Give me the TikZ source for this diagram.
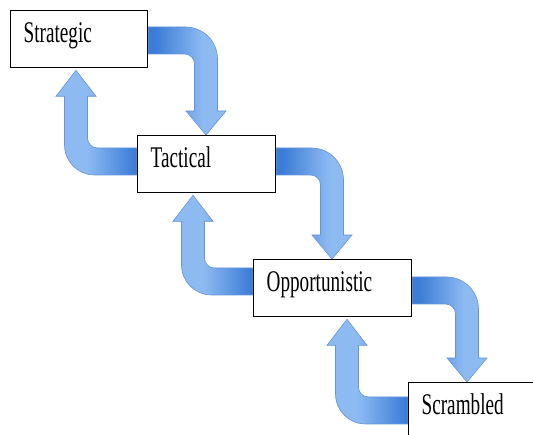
\documentclass[tikz,border=0pt]{standalone}
\usepackage{fontspec}
\usetikzlibrary{calc}
\newfontfamily\boxfont[FakeStretch=0.64]{Liberation Serif}
\definecolor{arrdark}{RGB}{58,124,214}
\definecolor{arrlight}{RGB}{142,186,242}
\definecolor{arredge}{RGB}{100,148,220}
\pgfdeclarehorizontalshading{rdshade}{100bp}{color(0bp)=(arrdark); color(29bp)=(arrdark); color(60bp)=(arrlight); color(100bp)=(arrlight)}
\pgfdeclarehorizontalshading{lushade}{100bp}{color(0bp)=(arrlight); color(44bp)=(arrlight); color(74bp)=(arrdark); color(100bp)=(arrdark)}
\pgfdeclarelayer{bg}
\pgfsetlayers{bg,main}
\tikzset{
  stagebox/.style={draw=black, line width=1.3pt, fill=white, anchor=north west,
    minimum height=57pt, inner xsep=13pt, inner ysep=0pt, text height=20pt, text depth=13pt,
    align=left, font={\boxfont\fontsize{30pt}{36pt}\selectfont}},
  blockarrow/.style={draw=arredge, line width=0.6pt},
}
% right-then-down block arrow: from node, to node, band top offset, shaft centre offset
\newcommand\rdarrow[4]{%
  \shade[blockarrow, shading=rdshade] let \p1=(#1.north east), \p2=(#2.north west),
    \n0={\x1}, \n1={\x2+#4}, \n2={\y1-#3}, \n3={\y1-#3-27}, \n4={\y2+24}, \n5={\y2} in
    (\n0,\n2) -- ({\n1+11.5-32},\n2) arc[start angle=90,end angle=0,radius=32]
    -- ({\n1+11.5},\n4) -- ({\n1+20},\n4) -- (\n1,\n5) -- ({\n1-20},\n4) -- ({\n1-11.5},\n4)
    -- ({\n1-11.5},{\n3-10}) arc[start angle=0,end angle=90,radius=10] -- (\n0,\n3) -- cycle;}
% left-then-up block arrow: from node (lower), to node (upper), band top offset, shaft centre offset
\newcommand\luarrow[4]{%
  \shade[blockarrow, shading=lushade] let \p1=(#1.north west), \p2=(#2.south west),
    \n0={\x1}, \n1={\x2+#4}, \n2={\y1-#3}, \n3={\y1-#3-27}, \n5={\y2-2}, \n4={\y2-2-26} in
    (\n0,\n3) -- ({\n1-11.5+30},\n3) arc[start angle=270,end angle=180,radius=30]
    -- ({\n1-11.5},\n4) -- ({\n1-20},\n4) -- (\n1,\n5) -- ({\n1+20},\n4) -- ({\n1+11.5},\n4)
    -- ({\n1+11.5},{\n2+10}) arc[start angle=180,end angle=270,radius=10] -- (\n0,\n2) -- cycle;}
\begin{document}
\begin{tikzpicture}[x=1pt, y=1pt]
  \useasboundingbox (0,0) rectangle (533,435);
  \clip (0,0) rectangle (533,435);
  \node[stagebox, text width=111pt] (strat) at (10,425) {Strategic};
  \node[stagebox, text width=112pt] (tact) at (137,300) {Tactical};
  \node[stagebox, text width=132pt] (opp) at (253,176) {Opportunistic};
  \node[stagebox, text width=114pt] (scr) at (408,53) {Scrambled};
  \begin{pgfonlayer}{bg}
    \rdarrow{strat}{tact}{17}{69}
    \rdarrow{tact}{opp}{13}{79}
    \rdarrow{opp}{scr}{18}{59}
    \luarrow{tact}{strat}{13}{66}
    \luarrow{opp}{tact}{9}{56}
    \luarrow{scr}{opp}{15}{94}
  \end{pgfonlayer}
\end{tikzpicture}
\end{document}
